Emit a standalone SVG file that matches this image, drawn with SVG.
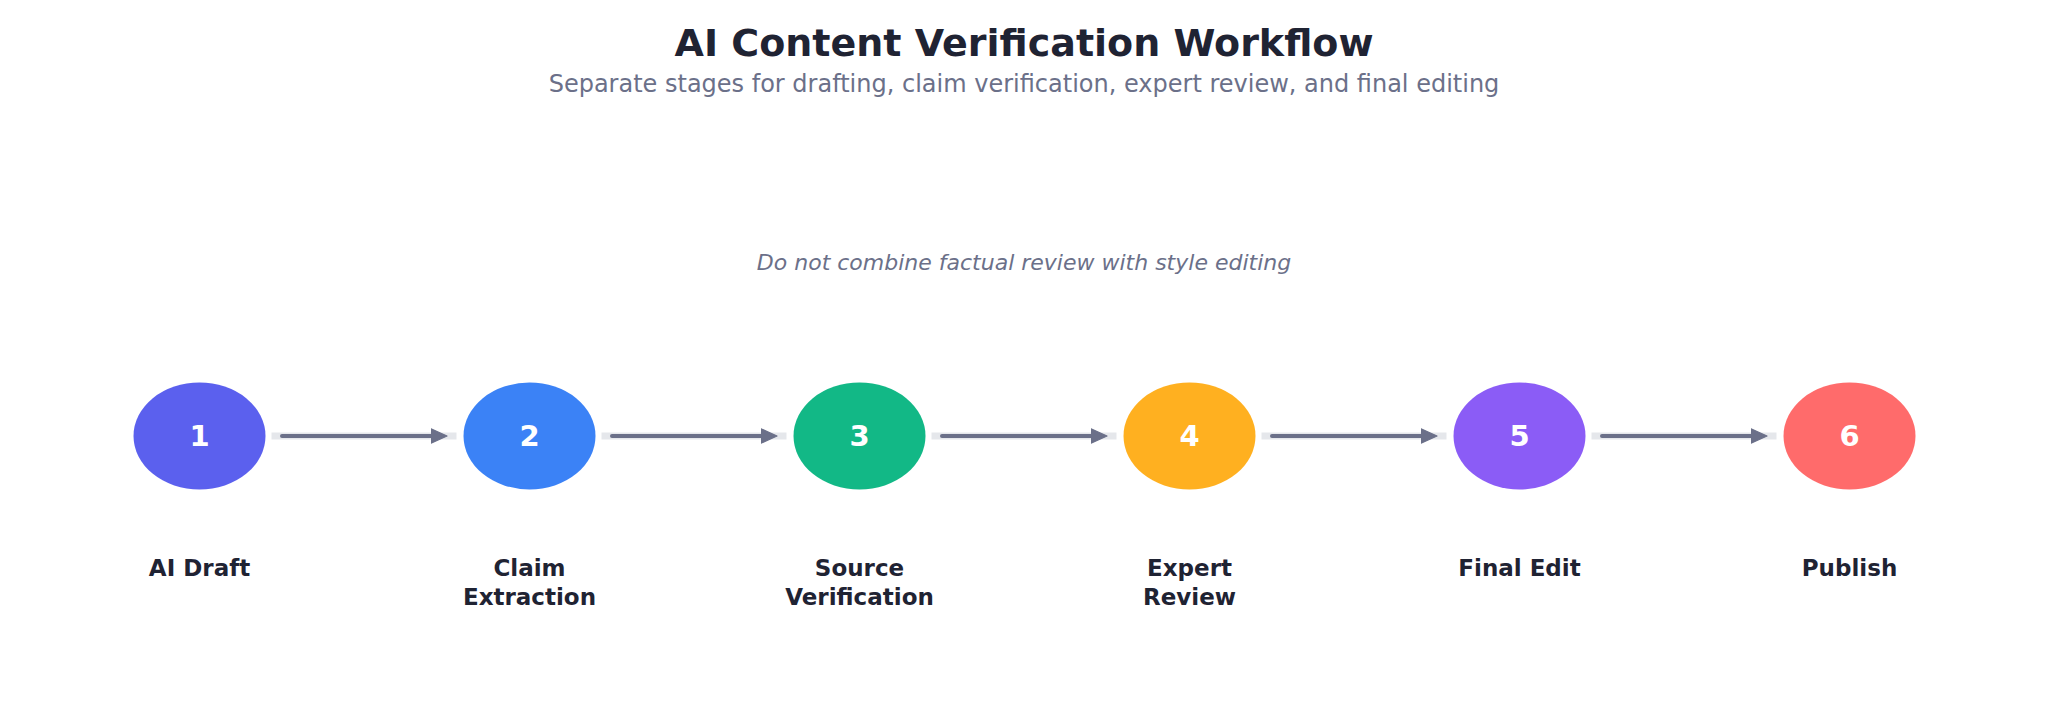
<svg xmlns="http://www.w3.org/2000/svg" width="2048" height="727" viewBox="0 0 2048 727">
<defs>
<style>
.title{font-family:"DejaVu Sans",sans-serif;font-weight:bold;font-size:38px;fill:#1F2333;text-anchor:middle}
.sub{font-family:"DejaVu Sans",sans-serif;font-size:24px;fill:#6B7089;text-anchor:middle}
.note{font-family:"DejaVu Sans",sans-serif;font-style:italic;font-size:22px;fill:#6B7089;text-anchor:middle}
.num{font-family:"DejaVu Sans",sans-serif;font-weight:bold;font-size:29px;fill:#FFFFFF;text-anchor:middle}
.lbl{font-family:"DejaVu Sans",sans-serif;font-weight:bold;font-size:23px;fill:#1F2333;text-anchor:middle}
.track{stroke:#E5E7EB;stroke-width:7}
.arrow{stroke:#6B7089;stroke-width:4;stroke-linecap:round;marker-end:url(#ah)}
</style>
<marker id="ah" markerWidth="4.5" markerHeight="4.5" refX="1.5" refY="2.2" orient="auto" markerUnits="strokeWidth">
<path d="M0,0.4 L4,2.2 L0,4 Z" fill="#6B7089" stroke="#6B7089" stroke-width="0.3" stroke-linejoin="round"/>
</marker>
</defs>
<rect width="2048" height="727" fill="#FFFFFF"/>
<text class="title" x="1024" y="56">AI Content Verification Workflow</text>
<text class="sub" x="1024" y="92">Separate stages for drafting, claim verification, expert review, and final editing</text>
<text class="note" x="1024" y="270">Do not combine factual review with style editing</text>
<g id="connectors">
<line class="track" x1="271.5" y1="436" x2="456.5" y2="436"/>
<line class="arrow" x1="282" y1="436" x2="437" y2="436"/>
<line class="track" x1="601.5" y1="436" x2="786.5" y2="436"/>
<line class="arrow" x1="612" y1="436" x2="767" y2="436"/>
<line class="track" x1="931.5" y1="436" x2="1116.5" y2="436"/>
<line class="arrow" x1="942" y1="436" x2="1097" y2="436"/>
<line class="track" x1="1261.5" y1="436" x2="1446.5" y2="436"/>
<line class="arrow" x1="1272" y1="436" x2="1427" y2="436"/>
<line class="track" x1="1591.5" y1="436" x2="1776.5" y2="436"/>
<line class="arrow" x1="1602" y1="436" x2="1757" y2="436"/>
</g>
<g id="node1">
<ellipse cx="199.5" cy="436" rx="66" ry="53.5" fill="#5B60EE"/>
<text class="num" x="199.5" y="446">1</text>
<text class="lbl" x="199.5" y="576">AI Draft</text>
</g>
<g id="node2">
<ellipse cx="529.5" cy="436" rx="66" ry="53.5" fill="#3B82F6"/>
<text class="num" x="529.5" y="446">2</text>
<text class="lbl" x="529.5" y="576">Claim</text>
<text class="lbl" x="529.5" y="605">Extraction</text>
</g>
<g id="node3">
<ellipse cx="859.5" cy="436" rx="66" ry="53.5" fill="#12B886"/>
<text class="num" x="859.5" y="446">3</text>
<text class="lbl" x="859.5" y="576">Source</text>
<text class="lbl" x="859.5" y="605">Verification</text>
</g>
<g id="node4">
<ellipse cx="1189.5" cy="436" rx="66" ry="53.5" fill="#FFB020"/>
<text class="num" x="1189.5" y="446">4</text>
<text class="lbl" x="1189.5" y="576">Expert</text>
<text class="lbl" x="1189.5" y="605">Review</text>
</g>
<g id="node5">
<ellipse cx="1519.5" cy="436" rx="66" ry="53.5" fill="#8B5CF6"/>
<text class="num" x="1519.5" y="446">5</text>
<text class="lbl" x="1519.5" y="576">Final Edit</text>
</g>
<g id="node6">
<ellipse cx="1849.5" cy="436" rx="66" ry="53.5" fill="#FF6B6B"/>
<text class="num" x="1849.5" y="446">6</text>
<text class="lbl" x="1849.5" y="576">Publish</text>
</g>
</svg>
